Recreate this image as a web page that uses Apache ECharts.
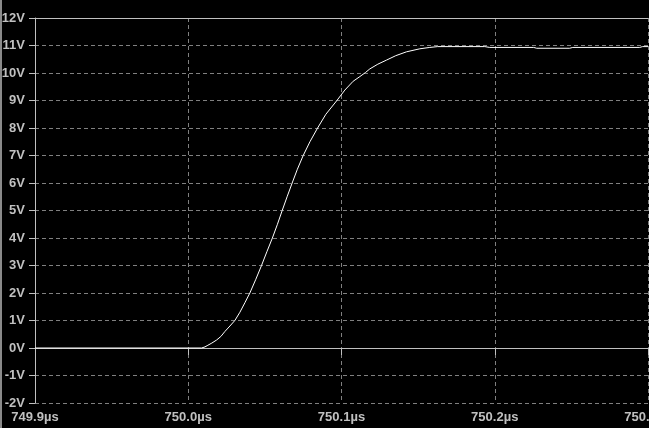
<!DOCTYPE html>
<html><head><meta charset="utf-8">
<script src="https://cdn.jsdelivr.net/npm/echarts@6/dist/echarts.min.js"></script>
<style>html,body{margin:0;padding:0;background:#000;}#c{width:649px;height:428px;}</style>
</head><body><div id="c"></div>
<script>
// time in µs
const times = [749.9, 750.0087, 750.0109, 750.0128, 750.0154, 750.0185, 750.0213, 750.0239, 750.0272, 750.0304, 750.0337, 750.0370, 750.0402, 750.0441, 750.0478, 750.0513, 750.0549, 750.0582, 750.0613, 750.0645, 750.0678, 750.0712, 750.0750, 750.0794, 750.0844, 750.0898, 750.0970, 750.1022, 750.1076, 750.1120, 750.1157, 750.1185, 750.1237, 750.1294, 750.1354, 750.1424, 750.1511, 750.1576, 750.1628, 750.1935, 750.1967, 750.2254, 750.2274, 750.2489, 750.2509, 750.2946, 750.2965, 750.3];
// voltage in V
const volts = [0, 0, 0.04, 0.1, 0.18, 0.29, 0.42, 0.6, 0.8, 1.0, 1.3, 1.65, 2.0, 2.5, 3.0, 3.5, 4.0, 4.5, 5.0, 5.5, 6.0, 6.5, 7.0, 7.5, 8.0, 8.5, 9.0, 9.38, 9.70, 9.87, 10.02, 10.15, 10.32, 10.47, 10.63, 10.77, 10.88, 10.93, 10.96, 10.96, 10.93, 10.93, 10.90, 10.90, 10.93, 10.93, 10.96, 10.96];
const xMin = 749.9, xMax = 750.3, xStep = 0.1;
const yMin = -2, yMax = 12, yStep = 1;

const labelStyle = {color:'#c0c0c0', fontFamily:'Liberation Sans, Arial, sans-serif', fontWeight:'bold', fontSize:13};
const chart = echarts.init(document.getElementById('c'), null, {renderer:'canvas'});
chart.setOption({
  backgroundColor:'#000',
  animation:false,
  grid:{left:35, right:1, top:18, bottom:25, containLabel:false, outerBoundsMode:'none'},
  graphic:[{type:'rect', left:0, top:0, shape:{width:2, height:428}, style:{fill:'#8a8a8a'}, silent:true}],
  xAxis:[{
    type:'value', min:xMin, max:xMax, interval:xStep, position:'bottom',
    axisLine:{show:true, lineStyle:{color:'#c0c0c0', width:1}},
    axisTick:{show:true, length:7, lineStyle:{color:'#c0c0c0'}},
    axisLabel:Object.assign({margin:8, hideOverlap:false, showMaxLabel:true, formatter:v=>v.toFixed(1)+'µs'}, labelStyle),
    splitLine:{show:true, lineStyle:{color:'#808080', type:[4,3], width:1}}
  },{
    type:'value', min:xMin, max:xMax, interval:xStep, position:'top',
    axisLine:{show:true, onZero:false, lineStyle:{color:'#c0c0c0', width:1}},
    axisTick:{show:false}, axisLabel:{show:false}, splitLine:{show:false}
  }],
  yAxis:{
    type:'value', min:yMin, max:yMax, interval:yStep,
    axisLine:{show:true, onZero:false, lineStyle:{color:'#c0c0c0', width:1}},
    axisTick:{show:true, length:6, lineStyle:{color:'#c0c0c0'}},
    axisLabel:Object.assign({margin:10, formatter:v=>v+'V'}, labelStyle),
    splitLine:{show:true, lineStyle:{color:'#808080', type:[4,3], width:1}}
  },
  series:[{
    type:'line', xAxisIndex:0, showSymbol:false, symbol:'none', smooth:false,
    lineStyle:{color:'#ffffff', width:1},
    data: times.map((t,i)=>[t, volts[i]])
  }]
});
</script></body></html>
